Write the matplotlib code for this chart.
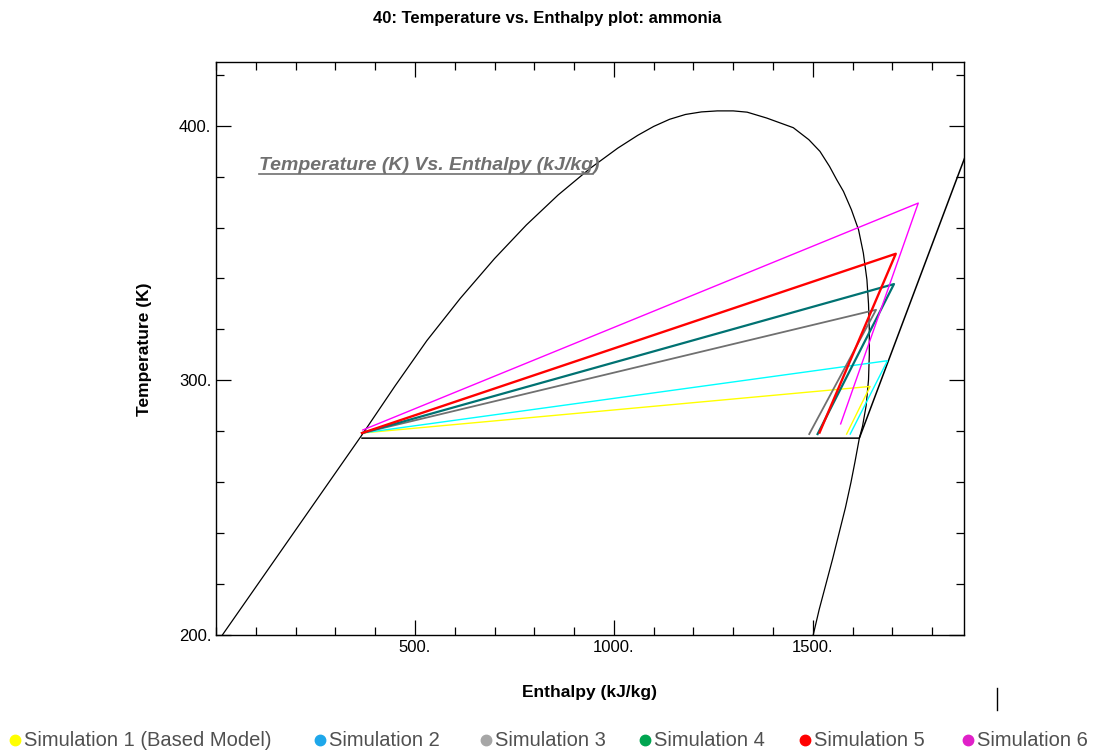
import numpy as np
import matplotlib
matplotlib.use("Agg")
import matplotlib.pyplot as plt
from matplotlib.lines import Line2D
from matplotlib.ticker import MultipleLocator, FormatStrFormatter

plt.rcParams["font.family"] = ["Liberation Sans", "DejaVu Sans"]

# ── Data ──────────────────────────────────────────────────────────────────────

# saturation dome: liquid line up to the critical point, then the vapour line
DOME_H = [16, 367, 450, 530, 614, 700, 780, 860, 940, 1010, 1060, 1100, 1140,
          1180, 1220, 1260, 1300, 1335, 1384, 1451, 1490, 1518, 1542, 1560,
          1577, 1597, 1615, 1627, 1636, 1640, 1642, 1642, 1640, 1634, 1625,
          1617, 1606, 1596, 1582, 1566, 1550, 1533, 1516, 1507, 1501]
DOME_T = [200, 278.6, 297.8, 315.6, 332.2, 347.8, 361.0, 372.8, 383.2, 391.2,
          396.2, 399.7, 402.5, 404.4, 405.4, 405.8, 405.8, 405.3, 403.0, 399.2,
          394.5, 389.9, 384.0, 378.8, 374.2, 367.0, 359.1, 350.0, 339.5, 330.0,
          319.8, 310.0, 300.2, 290.0, 282.0, 277.3, 268.0, 260.0, 250.0, 240.0,
          230.0, 220.0, 210.0, 204.0, 200]

# evaporator isobar
ISOBAR_H = [367, 1617, 1861, 1900]
ISOBAR_T = [277.3, 277.3, 378.8, 394.9]

# cycle points: evaporator outlet -> compressor outlet -> liquid
SIM_NAMES = ["Simulation 1 (Based Model)", "Simulation 2", "Simulation 3",
             "Simulation 4", "Simulation 5", "Simulation 6"]
OUT_H = [1585, 1594, 1491, 1512, 1517, 1570]
OUT_T = [278.9, 278.9, 278.9, 278.9, 279.5, 282.9]
DIS_H = [1644, 1687.5, 1659, 1704, 1708.5, 1765]
DIS_T = [297.6, 307.7, 327.7, 337.8, 349.7, 369.6]
LIQ_H = [367, 367, 367, 367, 367, 369]
LIQ_T = [279.3, 279.3, 279.3, 279.3, 279.3, 280.5]

LINE_COLORS = ["#ffff00", "#00ffff", "#707070", "#007272", "#ff0000", "#ff00ff"]
LINE_WIDTHS = [1.0, 1.0, 1.3, 1.6, 1.7, 1.0]
LEGEND_COLORS = ["#ffff00", "#1ea7ea", "#a6a6a6", "#00a550", "#ff0000", "#e020c8"]
LEGEND_X = [15, 320, 486, 645, 805, 968]

W, H = 1094, 753

fig = plt.figure(figsize=(W / 100, H / 100), dpi=100)
ax = fig.add_axes([216 / W, 1 - 635 / H, (964 - 216) / W, (635 - 62) / H])

ax.plot(DOME_H, DOME_T, color="black", lw=0.9)
ax.plot(ISOBAR_H, ISOBAR_T, color="black", lw=1.1)

for i in range(len(SIM_NAMES)):
    ax.plot([OUT_H[i], DIS_H[i], LIQ_H[i]], [OUT_T[i], DIS_T[i], LIQ_T[i]],
            color=LINE_COLORS[i], lw=LINE_WIDTHS[i])

ax.set_xlim(0, 1880)
ax.set_ylim(200, 425)

ax.xaxis.set_major_locator(MultipleLocator(500))
ax.xaxis.set_minor_locator(MultipleLocator(100))
ax.yaxis.set_major_locator(MultipleLocator(100))
ax.yaxis.set_minor_locator(MultipleLocator(20))
ax.xaxis.set_major_formatter(FormatStrFormatter("%d."))
ax.yaxis.set_major_formatter(FormatStrFormatter("%d."))
ax.tick_params(which="both", direction="in", top=True, right=True,
               labelsize=12, width=0.9)
ax.tick_params(which="major", length=11, pad=3.5)
ax.tick_params(which="minor", length=6)
for sp in ax.spines.values():
    sp.set_linewidth(1.0)
ax.set_xticks([500, 1000, 1500])

# axis titles and chart title
fig.text(589 / W, 1 - 692 / H, "Enthalpy (kJ/kg)", fontsize=12.5,
         fontweight="bold", ha="center", va="center")
fig.text(145 / W, 1 - 349 / H, "Temperature (K)", fontsize=12.5,
         fontweight="bold", ha="center", va="center", rotation=90)
fig.text(0.5, 1 - 18 / H, "40: Temperature vs. Enthalpy plot: ammonia",
         ha="center", va="center", fontsize=12, fontweight="bold")

# underlined annotation inside the plot
ax.text(107, 382.7, "Temperature (K) Vs. Enthalpy (kJ/kg)", fontsize=14,
        fontweight="bold", fontstyle="italic", color="#707070",
        ha="left", va="baseline")
ax.plot([107, 948], [381.1, 381.1], color="#707070", lw=1.2)

# legend row under the chart
for x, c, name in zip(LEGEND_X, LEGEND_COLORS, SIM_NAMES):
    fig.add_artist(Line2D([x / W], [1 - 740 / H], marker="o", ms=7.5,
                          color=c, transform=fig.transFigure))
    fig.text((x + 9) / W, 1 - 740 / H, name, fontsize=14.5, color="#505050",
             ha="left", va="center")

# stray cursor mark
fig.add_artist(Line2D([997 / W, 997 / W], [1 - 688 / H, 1 - 710 / H],
                      color="black", lw=1.0, transform=fig.transFigure))

fig.savefig("out.png", dpi=100)
